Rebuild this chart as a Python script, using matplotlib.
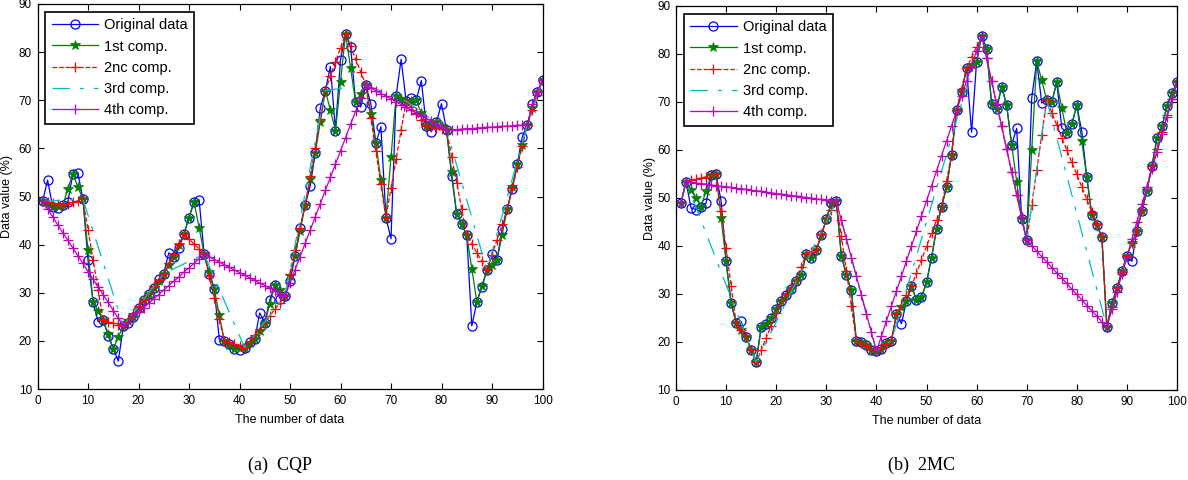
import numpy as np
import matplotlib
matplotlib.use('Agg')
import matplotlib.pyplot as plt

plt.rcParams['font.family'] = ['Liberation Sans', 'DejaVu Sans']

# x positions (sample index)
idx = list(range(1, 101))

# original data (same in both panels)
original = [49.0, 53.4, 47.9, 47.6, 48.2, 48.9, 54.7, 54.9, 49.4, 36.8,
            28.1, 24.0, 24.3, 21.0, 18.4, 15.8, 23.1, 23.8, 25.0, 26.8,
            28.5, 29.8, 31.0, 32.8, 34.0, 38.3, 37.5, 39.2, 42.2, 45.6,
            48.9, 49.3, 38.0, 34.0, 30.8, 20.2, 20.0, 19.4, 18.4, 18.1,
            18.6, 19.8, 20.3, 25.8, 23.8, 28.5, 31.6, 28.8, 29.3, 32.4,
            37.6, 43.5, 48.2, 52.2, 59.0, 68.4, 72.0, 77.0, 63.7, 78.4,
            83.8, 81.1, 69.6, 68.6, 73.2, 69.3, 61.1, 64.5, 45.6, 41.2,
            70.8, 78.5, 69.8, 70.4, 70.0, 74.1, 64.6, 63.5, 65.4, 69.3,
            63.8, 54.3, 46.4, 44.3, 41.9, 23.1, 28.1, 31.2, 34.7, 38.0,
            36.8, 43.2, 47.3, 51.5, 56.7, 62.4, 64.9, 69.2, 71.8, 74.2]

# (a) CQP components
cqp_comp1 = [49.0, 48.5, 47.9, 48.0, 48.2, 51.5, 54.7, 52.0, 49.4, 38.8,
             28.1, 26.2, 24.3, 21.4, 18.4, 20.8, 23.1, 24.1, 25.0, 26.8,
             28.5, 29.8, 31.0, 32.5, 34.0, 35.8, 37.5, 39.9, 42.2, 45.6,
             48.9, 43.5, 38.0, 34.4, 30.8, 25.4, 20.0, 19.2, 18.4, 18.5,
             18.6, 19.5, 20.3, 22.1, 23.8, 27.7, 31.6, 30.5, 29.3, 33.5,
             37.6, 42.9, 48.2, 53.6, 59.0, 65.5, 72.0, 67.9, 63.7, 73.8,
             83.8, 76.7, 69.6, 71.4, 73.2, 67.2, 61.1, 53.4, 45.6, 58.2,
             70.8, 70.3, 69.8, 69.9, 70.0, 67.3, 64.6, 65.0, 65.4, 64.6,
             63.8, 55.1, 46.4, 44.2, 41.9, 35.0, 28.1, 31.4, 34.7, 35.8,
             36.8, 42.1, 47.3, 52.0, 56.7, 60.8, 64.9, 68.4, 71.8, 74.2]
cqp_comp2 = [49.0, 48.8, 48.6, 48.4, 48.2, 48.5, 48.8, 49.1, 49.4, 43.1,
             36.9, 30.6, 24.3, 24.0, 23.7, 23.4, 23.1, 24.5, 25.8, 27.2,
             28.5, 29.9, 31.3, 32.6, 34.0, 36.1, 38.1, 40.2, 42.2, 41.2,
             40.1, 39.1, 38.0, 33.5, 29.0, 24.5, 20.0, 19.7, 19.3, 19.0,
             18.6, 19.9, 21.2, 22.5, 23.8, 25.2, 26.6, 27.9, 29.3, 34.0,
             38.8, 43.5, 48.2, 54.2, 60.1, 66.1, 72.0, 75.0, 77.9, 80.9,
             83.8, 81.2, 78.5, 75.9, 73.2, 66.3, 59.4, 52.5, 45.6, 51.7,
             57.7, 63.8, 69.8, 68.5, 67.2, 65.9, 64.6, 64.4, 64.2, 64.0,
             63.8, 58.3, 52.9, 47.4, 41.9, 40.1, 38.3, 36.5, 34.7, 37.9,
             41.0, 44.2, 47.3, 51.7, 56.1, 60.5, 64.9, 68.0, 71.1, 74.2]
cqp_comp3_x = [1, 9, 17, 25, 33, 41, 49, 57, 65, 73, 81, 89, 97, 100]
cqp_comp3_y = [49.0, 49.4, 23.1, 34.0, 38.0, 18.6, 29.3, 72.0, 73.2, 69.8,
               63.8, 34.7, 64.9, 74.2]
cqp_comp4 = [49.0, 47.4, 45.8, 44.1, 42.5, 40.9, 39.3, 37.7, 36.1, 34.4,
             32.8, 31.2, 29.6, 28.0, 26.3, 24.7, 23.1, 24.0, 25.0, 25.9,
             26.8, 27.8, 28.7, 29.6, 30.6, 31.5, 32.4, 33.3, 34.3, 35.2,
             36.1, 37.1, 38.0, 37.5, 36.9, 36.4, 35.8, 35.3, 34.7, 34.2,
             33.7, 33.1, 32.6, 32.0, 31.5, 30.9, 30.4, 29.8, 29.3, 32.0,
             34.8, 37.5, 40.3, 43.0, 45.8, 48.5, 51.3, 54.0, 56.7, 59.5,
             62.2, 65.0, 67.7, 70.5, 73.2, 72.6, 72.0, 71.4, 70.9, 70.3,
             69.7, 69.1, 68.5, 67.9, 67.3, 66.7, 66.2, 65.6, 65.0, 64.4,
             63.8, 63.9, 63.9, 64.0, 64.1, 64.1, 64.2, 64.3, 64.4, 64.4,
             64.5, 64.6, 64.6, 64.7, 64.8, 64.8, 64.9, 69.2, 71.8, 74.2]

# (b) 2MC components
mc_comp1 = [49.0, 53.4, 51.7, 49.9, 48.2, 51.5, 54.7, 54.9, 45.9, 36.8,
            28.1, 24.0, 22.5, 21.0, 18.4, 15.8, 23.1, 23.8, 25.0, 26.8,
            28.5, 29.8, 31.0, 32.8, 34.0, 38.3, 37.5, 39.2, 42.2, 45.6,
            48.9, 49.3, 38.0, 34.0, 30.8, 20.2, 20.0, 19.4, 18.4, 18.1,
            18.6, 19.8, 20.3, 25.8, 27.2, 28.5, 31.6, 28.8, 29.3, 32.4,
            37.6, 43.5, 48.2, 52.2, 59.0, 68.4, 72.0, 77.0, 77.7, 78.4,
            83.8, 81.1, 69.6, 68.6, 73.2, 69.3, 61.1, 53.4, 45.6, 41.2,
            59.9, 78.5, 74.5, 70.4, 70.0, 74.1, 68.8, 63.5, 65.4, 69.3,
            61.8, 54.3, 46.4, 44.3, 41.9, 23.1, 28.1, 31.2, 34.7, 38.0,
            40.6, 43.2, 47.3, 51.5, 56.7, 62.4, 64.9, 69.2, 71.8, 74.2]
mc_comp2 = [49.0, 53.4, 53.7, 53.9, 54.2, 54.4, 54.7, 54.9, 47.2, 39.5,
            31.7, 24.0, 22.5, 21.0, 18.4, 15.8, 18.3, 20.9, 23.4, 26.0,
            28.5, 29.9, 31.4, 32.8, 35.6, 38.3, 38.8, 39.2, 42.4, 45.6,
            47.5, 49.3, 42.0, 34.8, 27.5, 20.2, 19.7, 19.2, 18.6, 18.1,
            18.8, 19.6, 20.3, 25.8, 27.7, 29.7, 31.6, 34.4, 37.1, 39.9,
            42.7, 45.4, 48.2, 53.6, 59.0, 68.4, 72.7, 77.0, 79.3, 81.5,
            83.8, 79.1, 74.3, 69.6, 64.9, 60.2, 55.4, 50.7, 46.0, 41.2,
            48.5, 55.8, 63.1, 70.4, 67.8, 65.2, 62.6, 60.0, 57.4, 54.9,
            52.3, 49.7, 47.1, 44.5, 41.9, 23.1, 27.2, 31.2, 34.6, 38.0,
            40.6, 43.2, 47.7, 52.2, 56.7, 60.2, 63.7, 67.2, 70.7, 74.2]
mc_comp3_x = [1, 2, 16, 32, 40, 43, 61, 70, 74, 86, 100]
mc_comp3_y = [49.0, 53.4, 15.8, 49.3, 18.1, 20.3, 83.8, 41.2, 70.4, 23.1, 74.2]
mc_comp4 = [49.0, 53.4, 53.3, 53.1, 53.0, 52.9, 52.7, 52.6, 52.4, 52.3,
            52.2, 52.0, 51.9, 51.8, 51.6, 51.5, 51.4, 51.2, 51.1, 50.9,
            50.8, 50.7, 50.5, 50.4, 50.3, 50.1, 50.0, 49.8, 49.7, 49.6,
            49.4, 49.3, 45.4, 41.5, 37.6, 33.7, 29.8, 25.9, 22.0, 18.1,
            21.2, 24.4, 27.5, 30.6, 33.7, 36.9, 40.0, 43.1, 46.3, 49.4,
            52.5, 55.6, 58.8, 61.9, 65.0, 68.2, 71.3, 74.4, 77.5, 80.7,
            83.8, 79.1, 74.3, 69.6, 64.9, 60.2, 55.4, 50.7, 46.0, 41.2,
            40.1, 38.9, 37.8, 36.7, 35.5, 34.4, 33.3, 32.2, 31.0, 29.9,
            28.8, 27.6, 26.5, 25.4, 24.2, 23.1, 26.8, 30.4, 34.1, 37.7,
            41.4, 45.0, 48.7, 52.3, 56.0, 59.6, 63.3, 66.9, 70.6, 74.2]

labels = ['Original data', '1st comp.', '2nc comp.', '3rd comp.', '4th comp.']


def draw_panel(ax, comp1, comp2, c3x, c3y, comp4):
    ax.plot(idx, original, '-o', color=(0, 0, 1), mfc='none', ms=6.5,
            mew=0.9, lw=0.9, label=labels[0])
    ax.plot(idx, comp1, '-*', color=(0, 0.5, 0), ms=7, mew=0.5, lw=0.9,
            label=labels[1])
    ax.plot(idx, comp2, '--+', color=(1, 0, 0), ms=7, mew=0.9, lw=0.9,
            label=labels[2])
    ax.plot(c3x, c3y, color=(0, 0.75, 0.75), lw=0.9, dashes=(14, 8, 3, 8),
            label=labels[3])
    ax.plot(idx, comp4, '-+', color=(0.75, 0, 0.75), ms=7, mew=0.9, lw=0.9,
            label=labels[4])

    ax.set_xlim(0, 100)
    ax.set_ylim(10, 90)
    ax.set_xticks(np.arange(0, 101, 10))
    ax.set_yticks(np.arange(10, 91, 10))
    ax.tick_params(direction='in', top=True, right=True, length=4,
                   width=0.8, labelsize=8.5, pad=4)
    for sp in ax.spines.values():
        sp.set_linewidth(0.9)

    ax.set_xlabel('The number of data', fontsize=9)
    ax.set_ylabel('Data value (%)', fontsize=9)
    ax.xaxis.set_label_coords(0.5, -0.065)

    leg = ax.legend(loc='upper left', bbox_to_anchor=(0.015, 0.98),
                    borderaxespad=0, fancybox=False, edgecolor='black',
                    framealpha=1, fontsize=10.5, handlelength=3.2,
                    handletextpad=0.4, labelspacing=0.5, borderpad=0.45,
                    numpoints=1)
    leg.get_frame().set_linewidth(1.2)


fig = plt.figure(figsize=(11.88, 4.8), dpi=100)
ax1 = fig.add_axes([37.5 / 1188, 91 / 480, 505 / 1188, 385 / 480])
ax2 = fig.add_axes([676 / 1188, 90 / 480, 501 / 1188, 384 / 480])

draw_panel(ax1, cqp_comp1, cqp_comp2, cqp_comp3_x, cqp_comp3_y, cqp_comp4)
draw_panel(ax2, mc_comp1, mc_comp2, mc_comp3_x, mc_comp3_y, mc_comp4)
ax1.yaxis.set_label_coords(-0.048, 0.5)
ax2.yaxis.set_label_coords(-0.04, 0.5)

fig.text(280 / 1188, 1 - 465 / 480, '(a)  CQP', ha='center', va='center',
         family='Liberation Serif', fontsize=13)
fig.text(922 / 1188, 1 - 465 / 480, '(b)  2MC', ha='center', va='center',
         family='Liberation Serif', fontsize=13)

fig.savefig('out.png', dpi=100, facecolor='white')
